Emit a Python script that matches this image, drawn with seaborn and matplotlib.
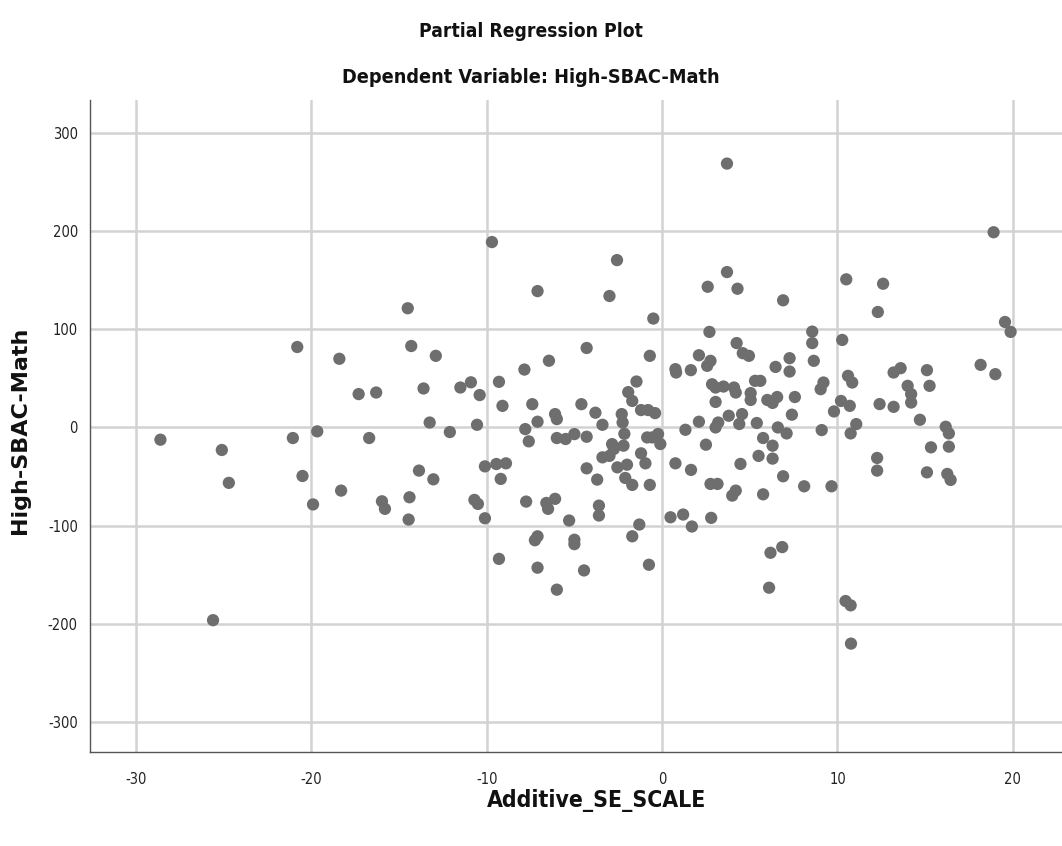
import numpy as np
import pandas as pd
import matplotlib
matplotlib.use("Agg")
import matplotlib.pyplot as plt
import seaborn as sns

# Values (partial regression residuals)
additive_se = [
    -28.6, -25.1, -24.7, -25.6, -21.05, -20.8, -20.5, -19.9, -19.66, -18.4, -18.3, -17.3,
    -16.7, -16.3, -15.97, -15.8, -14.5, -14.3, -14.4, -14.45, -13.86, -13.6, -13.25, -13.04,
    -12.9, -12.1, -11.5, -10.9, -10.4, -10.55, -10.1, -10.7, -10.5, -10.1, -9.7, -9.3, -9.1,
    -9.45, -8.9, -9.2, -9.3, -7.85, -7.4, -7.1, -7.1, -7.8, -7.6, -7.75, -7.25, -7.1, -7.1,
    -6.45, -6.1, -6.0, -6.0, -6.6, -6.5, -6.1, -6.0, -5.5, -5.0, -5.3, -5.0, -5.0, -4.3, -4.6,
    -4.3, -4.3, -4.45, -3.0, -3.8, -3.4, -3.4, -3.0, -3.7, -3.6, -3.6, -2.57, -2.3, -2.25,
    -2.15, -2.2, -2.85, -2.75, -2.55, -2.0, -2.1, -1.7, -1.46, -1.93, -1.7, -1.2, -0.8, -0.4,
    -1.2, -0.95, -0.7, -1.3, -1.7, -0.75, -0.5, -0.7, -0.85, -0.57, -0.23, -0.1,
    0.76, 0.8, 0.76, 0.48, 1.2, 1.33, 1.64, 1.65, 1.7, 2.1, 2.1, 2.5, 2.6, 2.7, 2.76, 2.57,
    2.85, 2.76, 2.8, 3.05, 3.5, 3.05, 3.05, 3.2, 3.16, 3.7, 3.7, 3.8, 4.3, 4.25, 4.1, 4.2,
    4.56, 4.4, 4.47, 4.0, 4.2, 4.6, 4.95, 5.05, 5.05, 5.3, 5.6, 5.4, 5.5, 5.76, 5.76, 6.0,
    6.3, 6.56, 6.47, 6.6, 6.3, 6.3, 6.9, 6.9, 6.18, 6.85, 6.1, 7.27, 7.27, 7.57, 7.4, 7.1,
    8.1, 8.56, 8.56, 8.65, 9.2, 9.04, 9.8, 9.1, 9.66, 10.27, 10.5, 10.6, 10.84, 10.2, 10.7,
    11.07, 10.75, 10.46, 10.75, 10.77, 12.3, 12.6, 12.4, 12.26, 12.26, 13.2, 13.6, 13.2,
    14.0, 14.2, 14.2, 14.7, 15.1, 15.25, 15.33, 15.1, 16.17, 16.35, 16.35, 16.26, 16.45,
    18.16, 18.9, 19.0, 19.55, 19.87,
]
high_sbac_math = [
    -12.5, -23, -56.5, -196.5, -10.8, 82, -49.5, -78.5, -4, 70, -64.4, 34,
    -10.8, 35.6, -75.3, -83, 121.5, 83, -71.2, -93.9, -44, 39.7, 5, -52.9,
    73, -4.7, 40.7, 46, 33, 2.7, -39.7, -73.9, -78, -92.6, 189, 46.5, 22,
    -37.3, -36.6, -52.5, -134, 59, 23.7, 139, 5.8, -1.7, -14.2, -75.6, -115, -111, -143,
    68, 13.6, 8.5, -10.8, -77, -83, -72.8, -165.4, -11.8, -6.8, -94.9, -114.5, -119, 81, 23.7,
    -9.5, -41.7, -145.8, 134, 15, 2.7, -30.5, -29, -53.2, -79.7, -89.8, 170.6, 13.6, 5,
    -6.5, -18.6, -17, -22, -40.7, -38, -51.5, -58.6, 46.8, 36, 27, 17.7, 17.7, 14.6,
    -26.4, -36.6, -58.6, -99, -111, -140, 111, 73, -10.2, -10.2, -6.7, -16.9,
    59.4, 56, -36.6, -91.6, -88.8, -2.4, 58.4, -43.3, -101, 73.6, 5.8, -17.6, 143.4, 97.4, 67.9, 62.8,
    44, -57.6, -92.2, 40.7, 41.7, 26, 0, 5, -57.6, 269, 158.4, 11.9, 141.4, 86, 40.7, 35.6,
    13.6, 3.5, -37.2, -69.5, -64.4, 75.7, 73, 35, 28, 47.5, 47.5, 4.5, -29, -10.8, -68.2, 28,
    25, 31, 61.7, 0, -18.6, -31.8, -49.8, 129.6, -127.8, -122, -163.4, 70.6, 57, 31, 13, -6.1,
    -60, 97.7, 86, 67.9, 45.8, 39, 16.3, -2.7, -60, 89.2, 151, 52.6, 45.8, 27, 22,
    3.4, -6.1, -177, -181.4, -220.4, 117.7, 146.5, 23.8, -31.1, -44, 56, 60.4, 21,
    42.4, 34, 25.4, 7.8, 58.4, 42.4, -20.3, -45.8, 0.7, -6.1, -19.6, -47.4, -53.5,
    63.8, 199, 54.3, 107.5, 97.4,
]
x_ticks = [-30, -20, -10, 0, 10, 20]
y_ticks = [300, 200, 100, 0, -100, -200, -300]

df = pd.DataFrame({"Additive_SE_SCALE": additive_se, "High-SBAC-Math": high_sbac_math})

sns.set_style("white")
narrow = dict(family="DejaVu Sans", fontstretch="condensed")

fig = plt.figure(figsize=(10.62, 8.46), dpi=100)
ax = fig.add_axes([0.085, 0.111, 0.915, 0.771])

sns.scatterplot(data=df, x="Additive_SE_SCALE", y="High-SBAC-Math", ax=ax,
                color="#6e6e6e", s=78, edgecolor="none", zorder=3)

ax.set_xlim(-32.6, 22.8)
ax.set_ylim(-331, 334)
ax.set_xticks(x_ticks)
ax.set_yticks(y_ticks)
ax.set_xticklabels([str(t) for t in x_ticks], fontsize=10.5, color="#222222", **narrow)
ax.set_yticklabels([str(t) for t in y_ticks], fontsize=10.5, color="#222222", **narrow)
ax.grid(True, color="#d2d2d2", linewidth=1.8, zorder=0)
ax.set_axisbelow(True)
for side in ["top", "right"]:
    ax.spines[side].set_visible(False)
for side in ["left", "bottom"]:
    ax.spines[side].set_color("#555555")
    ax.spines[side].set_linewidth(1.0)
ax.tick_params(axis="both", length=0)
ax.tick_params(axis="x", pad=14)
ax.tick_params(axis="y", pad=9)

ax.set_xlabel("Additive_SE_SCALE", fontsize=16.5, fontweight="bold", color="#111111", **narrow)
ax.xaxis.set_label_coords(0.521, -0.056)
ax.set_ylabel("High-SBAC-Math", family="DejaVu Sans", fontsize=16,
              fontweight="bold", color="#111111")
ax.yaxis.set_label_coords(-0.062, 0.494)

fig.text(0.5, 0.963, "Partial Regression Plot", ha="center", va="center",
         fontsize=13.8, fontweight="bold", color="#111111", **narrow)
fig.text(0.5, 0.908, "Dependent Variable: High-SBAC-Math", ha="center", va="center",
         fontsize=14.2, fontweight="bold", color="#111111", **narrow)

fig.savefig("out.png", dpi=100)
